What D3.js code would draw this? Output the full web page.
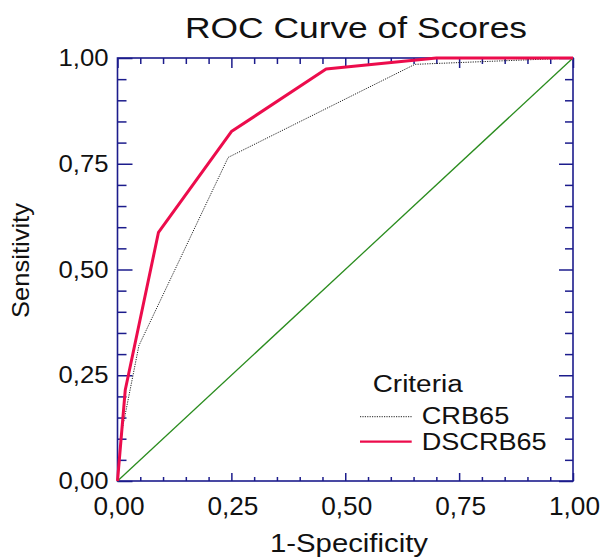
<!DOCTYPE html>
<html>
<head>
<meta charset="utf-8">
<script src="https://cdn.jsdelivr.net/npm/d3@7"></script>
<style>
  body { margin: 0; background: #fff; }
  svg { display: block; font-family: "Liberation Sans", Arial, sans-serif; }
  .axis path { display: none; }
  .axis line { stroke: #1c1c8c; stroke-width: 1.5; }
</style>
</head>
<body>
<script>
// values
var majorTicks = [0, 0.25, 0.5, 0.75, 1]
var minorTicks = [0.05, 0.1, 0.15, 0.2, 0.3, 0.35, 0.4, 0.45, 0.55, 0.6, 0.65, 0.7, 0.8, 0.85, 0.9, 0.95]

var crbX = [0, 0.01, 0.047, 0.243, 0.653, 1]
var crbY = [0, 0.12, 0.32, 0.765, 0.985, 1]

var dscrbX = [0, 0.017, 0.09, 0.25, 0.458, 0.70, 1]
var dscrbY = [0, 0.215, 0.588, 0.826, 0.974, 1, 1]

var refX = [0, 1]
var refY = [0, 1]

var seriesNames = ['CRB65', 'DSCRB65']

var colors = {
  axis: '#1c1c8c',
  red: '#ec0c4c',
  green: '#2a8c1e',
  dotted: '#222'
}

var W = 601, H = 557
var plot = { left: 117.5, right: 573, top: 58, bottom: 481 }

var svg = d3.select('body').append('svg')
  .attr('width', W)
  .attr('height', H)

var x = d3.scaleLinear().domain([0, 1]).range([plot.left, plot.right])
var y = d3.scaleLinear().domain([0, 1]).range([plot.bottom, plot.top])

var comma = d3.formatLocale({ decimal: ',', thousands: '.', grouping: [3], currency: ['', ''] }).format('.2f')

function zip (xs, ys) {
  return xs.map(function (v, i) { return [v, ys[i]] })
}

var line = d3.line().x(function (d) { return x(d[0]) }).y(function (d) { return y(d[1]) })

// axes: major + minor, ticks pointing inward
function drawAxis (axisFn, scale, transform, majorLen, minorLen, labels, pad) {
  svg.append('g').attr('class', 'axis').attr('transform', transform)
    .call(axisFn(scale).tickValues(minorTicks).tickSizeInner(-minorLen).tickSizeOuter(0).tickFormat(''))
  var g = svg.append('g').attr('class', 'axis').attr('transform', transform)
    .call(axisFn(scale).tickValues(majorTicks).tickSizeInner(-majorLen).tickSizeOuter(0)
      .tickPadding(pad).tickFormat(labels ? comma : ''))
  return g
}

var bottomAxis = drawAxis(d3.axisBottom, x, 'translate(0,' + plot.bottom + ')', 8, 4, true, 16)
bottomAxis.selectAll('text')
  .attr('fill', '#111').attr('font-size', 25)
  .attr('dx', 1)
  .attr('textLength', 51).attr('lengthAdjust', 'spacingAndGlyphs')

var leftAxis = drawAxis(d3.axisLeft, y, 'translate(' + plot.left + ',0)', 15, 9, true, 9)
leftAxis.selectAll('text')
  .attr('fill', '#111').attr('font-size', 24)
  .attr('textLength', 50).attr('lengthAdjust', 'spacingAndGlyphs')

drawAxis(d3.axisTop, x, 'translate(0,' + plot.top + ')', 10, 6, false, 0)
drawAxis(d3.axisRight, y, 'translate(' + plot.right + ',0)', 14, 8, false, 0)

// frame
svg.append('rect')
  .attr('x', plot.left).attr('y', plot.top)
  .attr('width', plot.right - plot.left).attr('height', plot.bottom - plot.top)
  .attr('fill', 'none').attr('stroke', colors.axis).attr('stroke-width', 1.6)

// curves
svg.append('path').datum(zip(refX, refY))
  .attr('d', line).attr('fill', 'none')
  .attr('stroke', colors.green).attr('stroke-width', 1.3)

svg.append('path').datum(zip(crbX, crbY))
  .attr('d', line).attr('fill', 'none')
  .attr('stroke', colors.dotted).attr('stroke-width', 1)
  .attr('stroke-dasharray', '1.2,1.2')

svg.append('path').datum(zip(dscrbX, dscrbY))
  .attr('d', line).attr('fill', 'none')
  .attr('stroke', colors.red).attr('stroke-width', 3)
  .attr('stroke-linejoin', 'round')

// titles
function label (tx, ty, str, size, len, anchor) {
  return svg.append('text')
    .attr('x', tx).attr('y', ty)
    .attr('font-size', size).attr('fill', '#111')
    .attr('text-anchor', anchor || 'start')
    .attr('textLength', len).attr('lengthAdjust', 'spacingAndGlyphs')
    .text(str)
}

label(356, 38.3, 'ROC Curve of Scores', 29, 342, 'middle')
label(349, 551.7, '1-Specificity', 25.5, 158, 'middle')
label(0, 0, 'Sensitivity', 24.5, 115, 'middle')
  .attr('transform', 'translate(29,260.5) rotate(-90)')

// legend
label(372.7, 391.7, 'Criteria', 23, 90)

var legendRows = [
  { name: seriesNames[0], y: 416.7, ty: 424.3, len: 87.6, stroke: colors.dotted, width: 1, dash: '1.2,1.2' },
  { name: seriesNames[1], y: 441.7, ty: 450, len: 125, stroke: colors.red, width: 2.2, dash: null }
]

legendRows.forEach(function (r) {
  svg.append('line')
    .attr('x1', 360).attr('x2', 411.7).attr('y1', r.y).attr('y2', r.y)
    .attr('stroke', r.stroke).attr('stroke-width', r.width)
    .attr('stroke-dasharray', r.dash)
  label(421.7, r.ty, r.name, 23, r.len)
})
</script>
</body>
</html>
